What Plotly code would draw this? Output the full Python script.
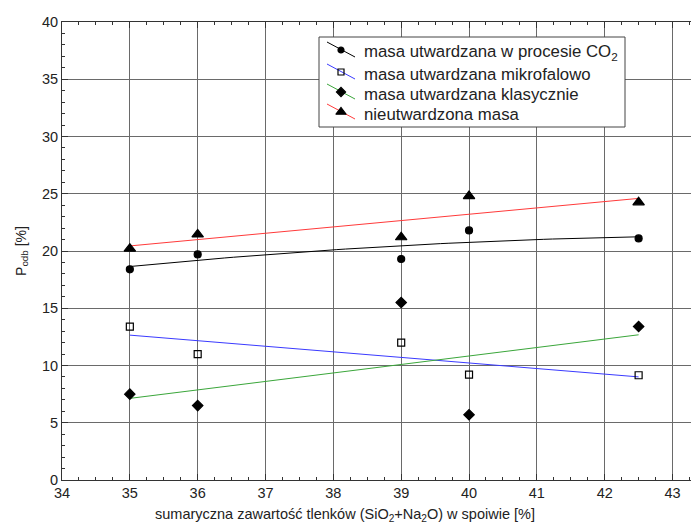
import numpy as np
import plotly.graph_objects as go

# ---- data ----
x_vals = [35, 36, 39, 40, 42.5]
co2 = [18.4, 19.7, 19.3, 21.8, 21.1]          # masa utwardzana w procesie CO2
mikro = [13.4, 11.0, 12.0, 9.2, 9.15]          # masa utwardzana mikrofalowo
klas = [7.5, 6.5, 15.5, 5.7, 13.4]             # masa utwardzana klasycznie
nieutw = [20.2, 21.45, 21.2, 24.8, 24.25]      # nieutwardzona masa

names = ["masa utwardzana w procesie CO<sub>2</sub>",
         "masa utwardzana mikrofalowo",
         "masa utwardzana klasycznie",
         "nieutwardzona masa"]
series = [co2, mikro, klas, nieutw]
fit_deg = [2, 1, 1, 1]
line_colors = ["#000000", "#3a3aff", "#3aa63a", "#ff3a3a"]
symbols = ["circle", "square-open", "diamond", "triangle-up"]
msizes = [7, 7, 8, 10]

x_ticks = [34, 35, 36, 37, 38, 39, 40, 41, 42, 43]
y_ticks = [0, 5, 10, 15, 20, 25, 30, 35, 40]

FONT = "Arial, 'Liberation Sans', sans-serif"

# the page body has an 8px margin, so the figure is sized to fill the rest
OFF = 8
W, H = 699 - OFF, 528 - OFF
ML, MR, MT, MB = 62 - OFF, 0, 22 - OFF, 48
XR = [34, 43.39]
YR = [0, 40]


def px2x(px):
    return XR[0] + (px - OFF - ML) / (W - ML - MR) * (XR[1] - XR[0])


def px2y(py):
    return YR[1] - (py - OFF - MT) / (H - MT - MB) * (YR[1] - YR[0])


fig = go.Figure()

# legend box (drawn above grid, below traces)
fig.add_shape(type="rect", xref="x", yref="y", x0=px2x(319), x1=px2x(625),
              y0=px2y(37), y1=px2y(127),
              line=dict(color="#444", width=1), fillcolor="white", layer="between")

xs = np.array(x_vals, dtype=float)
xfit = np.linspace(xs.min(), xs.max(), 60)
for ys, deg, col in zip(series, fit_deg, line_colors):
    coef = np.polyfit(xs, np.array(ys, dtype=float), deg)
    fig.add_trace(go.Scatter(x=xfit, y=np.polyval(coef, xfit), mode="lines",
                             line=dict(color=col, width=1), showlegend=False,
                             hoverinfo="skip"))

for ys, sym, ms in zip(series, symbols, msizes):
    fig.add_trace(go.Scatter(x=x_vals, y=ys, mode="markers",
                             marker=dict(symbol=sym, size=ms, color="black",
                                         line=dict(color="black", width=1.2)),
                             showlegend=False))

# ---- custom legend ----
leg_rows = [50, 72, 92, 112]
for i, (nm, col, sym, ms) in enumerate(zip(names, line_colors, symbols, msizes)):
    yr = leg_rows[i]
    fig.add_trace(go.Scatter(x=[px2x(327), px2x(355)], y=[px2y(yr - 8), px2y(yr + 7)],
                             mode="lines", line=dict(color=col, width=1),
                             showlegend=False, hoverinfo="skip"))
    fig.add_trace(go.Scatter(x=[px2x(341)], y=[px2y(yr)], mode="markers",
                             marker=dict(symbol=sym, size=ms - 1, color="black",
                                         line=dict(color="black", width=1.2)),
                             showlegend=False, hoverinfo="skip"))
    fig.add_annotation(x=px2x(362), y=px2y(yr + 2), xref="x", yref="y", text=nm,
                       showarrow=False, xanchor="left", yanchor="middle",
                       font=dict(family=FONT, size=16.8, color="#222"))

fig.add_annotation(x=(345 - OFF - ML) / (W - ML - MR), y=-(515 - OFF - MT - (H - MT - MB)) / (H - MT - MB),
                   xref="paper", yref="paper",
                   text="sumaryczna zawartość tlenków (SiO<sub>2</sub>+Na<sub>2</sub>O) w spoiwie [%]",
                   showarrow=False, xanchor="center", yanchor="middle",
                   font=dict(family=FONT, size=14.5, color="#222"))

fig.update_layout(
    width=W, height=H,
    margin=dict(l=ML, r=MR, t=MT, b=MB, autoexpand=False),
    paper_bgcolor="white", plot_bgcolor="white",
    font=dict(family=FONT, size=14, color="#222"),
    showlegend=False,
    xaxis=dict(range=XR, tickvals=x_ticks, ticks="inside", ticklen=6,
               tickcolor="#333", showline=True, linecolor="#333", linewidth=1,
               mirror="ticks", showgrid=True, gridcolor="#6a6a6a", gridwidth=1,
               zeroline=False, tickfont=dict(size=14.5), automargin=False,
               minor=dict(dtick=0.25, ticks="inside", ticklen=3, tickcolor="#333",
                          showgrid=False)),
    yaxis=dict(range=YR, tickvals=y_ticks, ticks="inside", ticklen=6,
               tickcolor="#333", showline=True, linecolor="#333", linewidth=1,
               mirror=False, showgrid=True, gridcolor="#6a6a6a", gridwidth=1,
               zeroline=False, tickfont=dict(size=14.5), automargin=False,
               title=dict(text="P<sub>odb</sub> [%]", font=dict(size=14), standoff=12),
               minor=dict(dtick=1, ticks="inside", ticklen=3, tickcolor="#333",
                          showgrid=False)),
)

fig.write_html("out.html")
